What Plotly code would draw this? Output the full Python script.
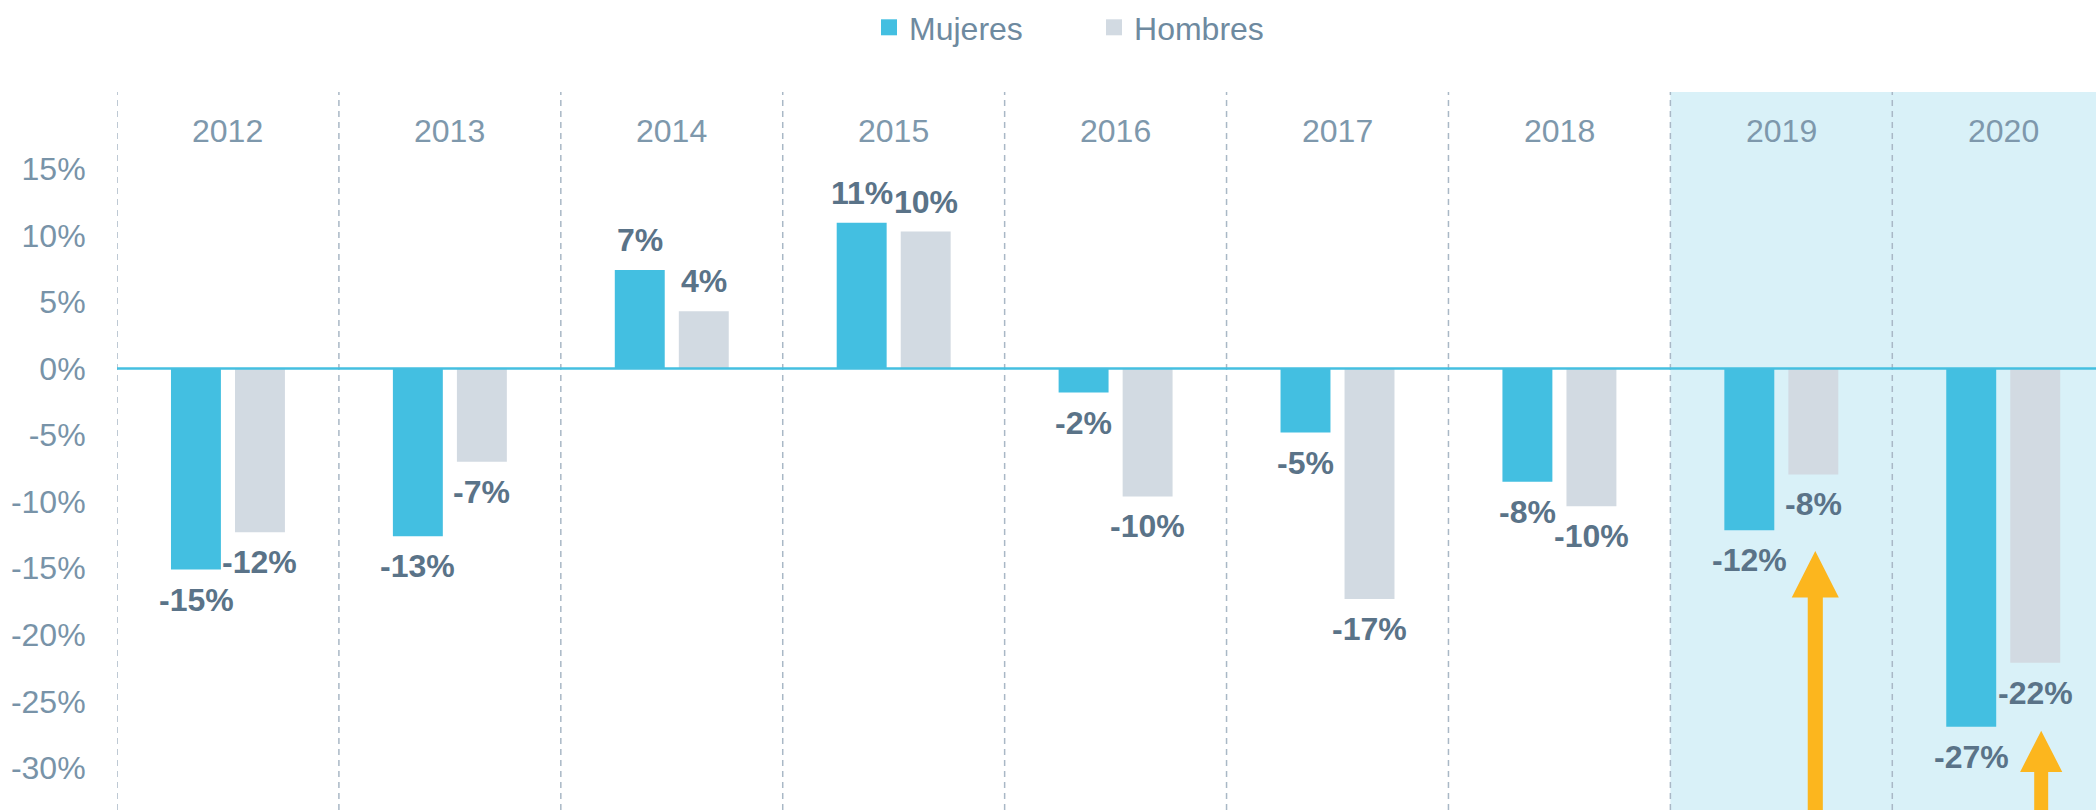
import plotly.graph_objects as go

years = ["2012", "2013", "2014", "2015", "2016", "2017", "2018", "2019", "2020"]
mujeres = [-15.1, -12.6, 7.4, 10.95, -1.8, -4.8, -8.5, -12.15, -26.9]
hombres = [-12.3, -7.0, 4.3, 10.3, -9.6, -17.3, -10.35, -7.95, -22.1]
y_ticks = [15, 10, 5, 0, -5, -10, -15, -20, -25, -30]
y_tick_labels = [f"{v}%" for v in y_ticks]

C_M = "#43BFE1"
C_H = "#D2DAE2"
C_LABEL = "#5A7388"
C_TICK = "#7893A8"
C_YEAR = "#7E98AC"
C_SHADE = "#D9F1F8"
C_ZERO = "#45BFE0"
C_GRID = "#A9B8C6"
C_ARROW = "#FCB61E"
FONT = "Liberation Sans, Arial, sans-serif"

x_idx = list(range(len(years)))
XMAX = 8.418
YMIN, YMAX = -33.16, 20.78

fig = go.Figure()
fig.add_trace(go.Bar(x=x_idx, y=mujeres, name="Mujeres", marker=dict(color=C_M, line=dict(width=0)),
                     showlegend=False, hoverinfo="y"))
fig.add_trace(go.Bar(x=x_idx, y=hombres, name="Hombres", marker=dict(color=C_H, line=dict(width=0)),
                     showlegend=False, hoverinfo="y"))
# legend entries
for name, col in [("Mujeres", C_M), ("Hombres", C_H)]:
    fig.add_trace(go.Scatter(x=[None], y=[None], mode="markers", name=name,
                             marker=dict(symbol="square", size=16, color=col)))

shapes = []
# shaded highlight for last two years
shapes.append(dict(type="rect", xref="x", yref="paper", x0=6.5, x1=XMAX, y0=0, y1=1,
                   fillcolor=C_SHADE, line=dict(width=0), layer="below"))
# dashed separators
for i in x_idx:
    shapes.append(dict(type="line", xref="x", yref="paper", x0=i - 0.5, x1=i - 0.5, y0=0, y1=1,
                       line=dict(color=C_GRID, width=1.5, dash="6px,5px"), layer="below"))
# zero line
shapes.append(dict(type="line", xref="paper", yref="y", x0=0, x1=1, y0=0, y1=0,
                   line=dict(color=C_ZERO, width=2.5), layer="above"))

# arrows (decoration under the Hombres bars of 2019 and 2020)
arrows = [(7.153, -13.7, -17.2, 0.106, 0.034), (8.171, -27.2, -30.3, 0.095, 0.0315)]
for xc, tip, base, hw, sw in arrows:
    path = (f"M {xc},{tip} L {xc + hw},{base} L {xc + sw},{base} L {xc + sw},-60 "
            f"L {xc - sw},-60 L {xc - sw},{base} L {xc - hw},{base} Z")
    shapes.append(dict(type="path", xref="x", yref="y", path=path, fillcolor=C_ARROW,
                       line=dict(width=0), layer="above"))

annotations = []
off = 0.144
for i, (m, h) in enumerate(zip(mujeres, hombres)):
    for val, dx in [(m, -off), (h, off)]:
        annotations.append(dict(x=i + dx, y=val, xref="x", yref="y", text=f"{round(val):d}%",
                                showarrow=False, yshift=30 if val > 0 else -30,
                                font=dict(family=FONT, size=32, color=C_LABEL, weight="bold"),
                                xanchor="center", yanchor="middle"))
for i, yr in enumerate(years):
    annotations.append(dict(x=i, y=0.9458, xref="x", yref="paper", text=yr, showarrow=False,
                            font=dict(family=FONT, size=32, color=C_YEAR),
                            xanchor="center", yanchor="middle"))

fig.update_layout(
    width=2096, height=810,
    margin=dict(l=117, r=0, t=91, b=0),
    paper_bgcolor="white", plot_bgcolor="rgba(0,0,0,0)",
    barmode="group", bargap=0.423, bargroupgap=0.22,
    font=dict(family=FONT, color=C_TICK),
    shapes=shapes, annotations=annotations,
    legend=dict(orientation="h", x=0.380, xanchor="left", y=1.0904, yanchor="middle",
                font=dict(family=FONT, size=32, color="#6E8AA0"),
                entrywidth=180, entrywidthmode="pixels", itemwidth=30,
                bgcolor="rgba(0,0,0,0)"),
    xaxis=dict(range=[-0.5, XMAX], showticklabels=False, showgrid=False, zeroline=False,
               showline=False, ticks=""),
    yaxis=dict(range=[YMIN, YMAX], tickvals=y_ticks, ticktext=y_tick_labels,
               showgrid=False, zeroline=False, showline=False,
               ticks="outside", ticklen=24, tickcolor="rgba(0,0,0,0)",
               tickfont=dict(family=FONT, size=32, color=C_TICK)),
)

fig.write_html("out.html")
